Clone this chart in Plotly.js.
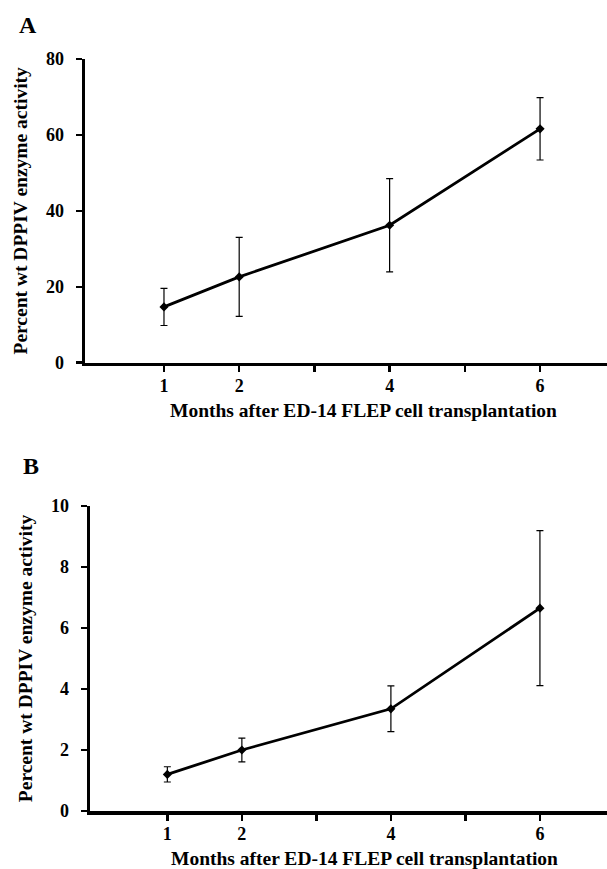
<!DOCTYPE html>
<html>
<head>
<meta charset="utf-8">
<script src="https://cdn.plot.ly/plotly-3.0.1.min.js"></script>
<style>html,body{margin:0;padding:0;background:#fff;}#chart{width:607px;height:869px;}</style>
</head>
<body>
<div id="chart"></div>
<script>
// Months after transplantation
var months = [1, 2, 4, 6];
// Panel A: percent wt DPPIV enzyme activity (mean, error)
var activityA = [14.7, 22.6, 36.2, 61.6];
var errorA = [4.9, 10.4, 12.3, 8.2];
// Panel B
var activityB = [1.2, 2.0, 3.35, 6.65];
var errorB = [0.25, 0.39, 0.75, 2.54];
// Axis ticks
var xTickVals = [1, 2, 3, 4, 5, 6];
var xTickText = ["1", "2", "", "4", "", "6"];
var yTickValsA = [0, 20, 40, 60, 80];
var yTickValsB = [0, 2, 4, 6, 8, 10];
var panelLabels = ["A", "B"];
var xTitle = "Months after ED-14 FLEP cell transplantation";
var yTitle = "Percent wt DPPIV enzyme activity";

var W = 607, H = 869;
var FONT = "Liberation Serif, Times New Roman, serif";

function px(x) { return x / W; }
function py(y) { return (H - y) / H; }

function trace(y, err, xa, ya) {
  return {
    x: months, y: y, xaxis: xa, yaxis: ya,
    type: "scatter", mode: "lines+markers",
    line: {color: "#000", width: 2.8},
    marker: {symbol: "diamond", size: 7, color: "#000"},
    error_y: {type: "data", array: err, visible: true, color: "#000", thickness: 1.2, width: 3.5},
    showlegend: false, hoverinfo: "x+y"
  };
}

var tickFont = {family: FONT, size: 18, color: "#000", weight: "bold"};
var titleFont = {family: FONT, size: 19.5, color: "#000", weight: "bold"};

function xAxis(domainLeft, range, anchor) {
  return {
    domain: [px(domainLeft), 1], range: range, anchor: anchor,
    showline: true, linecolor: "#000", linewidth: 3.5,
    ticks: "outside", ticklen: 6, tickwidth: 2.5, tickcolor: "#000",
    tickvals: xTickVals, ticktext: xTickText, tickfont: tickFont,
    ticklabelstandoff: -2,
    showgrid: false, zeroline: false, fixedrange: true
  };
}
function yAxis(domain, range, tickvals, anchor) {
  return {
    domain: domain, range: range, anchor: anchor,
    showline: true, linecolor: "#000", linewidth: 3.5,
    ticks: "outside", ticklen: 6, tickwidth: 2.5, tickcolor: "#000",
    tickvals: tickvals, tickfont: tickFont, ticklabelstandoff: 8,
    showgrid: false, zeroline: false, fixedrange: true,
    title: {text: yTitle, font: titleFont, standoff: 14}
  };
}

var data = [
  trace(activityA, errorA, "x", "y"),
  trace(activityB, errorB, "x2", "y2")
];

var layout = {
  width: W, height: H,
  margin: {l: 0, r: 0, t: 0, b: 0},
  paper_bgcolor: "#fff", plot_bgcolor: "#fff",
  font: {family: FONT, color: "#000"},
  xaxis: xAxis(85, [-0.05, 6.89], "y"),
  yaxis: yAxis([py(362.7), py(59)], [0, 80], yTickValsA, "x"),
  xaxis2: xAxis(90, [-0.038, 6.9], "y2"),
  yaxis2: yAxis([py(811), py(506)], [0, 10], yTickValsB, "x2"),
  annotations: [
    {text: panelLabels[0], xref: "paper", yref: "paper", x: px(28), y: py(25), showarrow: false,
     font: {family: FONT, size: 24, color: "#000", weight: "bold"}, xanchor: "center", yanchor: "middle"},
    {text: panelLabels[1], xref: "paper", yref: "paper", x: px(31), y: py(466), showarrow: false,
     font: {family: FONT, size: 24, color: "#000", weight: "bold"}, xanchor: "center", yanchor: "middle"},
    {text: xTitle, xref: "paper", yref: "paper", x: px(363), y: py(411), showarrow: false,
     font: titleFont, xanchor: "center", yanchor: "middle"},
    {text: xTitle, xref: "paper", yref: "paper", x: px(364), y: py(858), showarrow: false,
     font: titleFont, xanchor: "center", yanchor: "middle"}
  ]
};

Plotly.newPlot("chart", data, layout, {displayModeBar: false, staticPlot: true});
</script>
</body>
</html>
